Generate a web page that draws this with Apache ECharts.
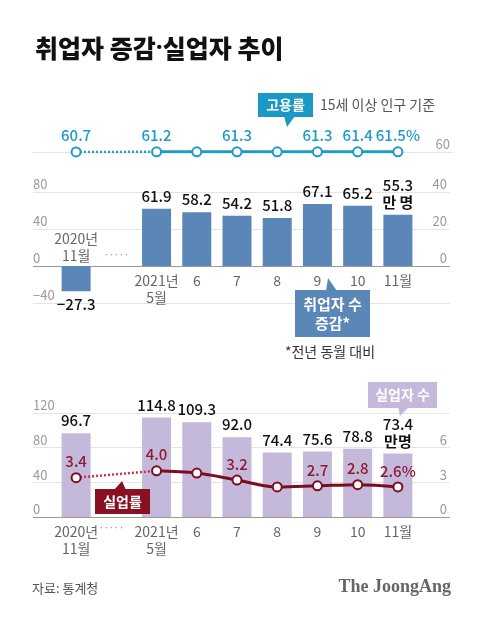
<!DOCTYPE html>
<html><head><meta charset="utf-8">
<script src="https://cdn.jsdelivr.net/npm/echarts@6/dist/echarts.min.js"></script>
<style>html,body{margin:0;padding:0;background:#fff}#c{width:480px;height:617px}</style>
</head><body><div id="c"></div>
<script>
// ---- data ----
const categories = ['2020년\n11월', '·····', '2021년\n5월', '6', '7', '8', '9', '10', '11월'];
const employmentRate = [60.7, null, 61.2, 61.3, 61.3, 61.2, 61.3, 61.4, 61.5];
const employmentRateLabelShown = [true, false, true, false, true, false, true, true, true];
const employedChange = [-27.3, null, 61.9, 58.2, 54.2, 51.8, 67.1, 65.2, 55.3];
const unemployed = [96.7, null, 114.8, 109.3, 92.0, 74.4, 75.6, 78.8, 73.4];
const unemploymentRate = [3.4, null, 4.0, 3.8, 3.2, 2.6, 2.7, 2.8, 2.6];
const unemploymentRateLabelShown = [true, false, true, false, true, false, true, true, true];
const rateAxisTicks = [60];
const changeLeftTicks = [-40, 0, 40, 80];
const changeRightTicks = [-20, 0, 20, 40];
const unempLeftTicks = [0, 40, 80, 120];
const unempRightTicks = [0, 3, 6, 9];

// ---- styles ----
const FONT = "'Noto Sans CJK KR', 'Noto Sans', sans-serif";
const RATE_BLUE = '#1c9cc8';
const BAR_BLUE = '#5b87b8';
const BAR_PURPLE = '#c5b9db';
const DARK_RED = '#7e0c1f';
const LABEL_RED = '#8e1b30';
const GRID_LIGHT = '#e4e4e4';
const GRID_ZERO = '#9a9a9a';
const last = categories.length - 1;

const chart = echarts.init(document.getElementById('c'), null, {renderer: 'canvas'});

const frameL = 33, frameR = 30, dataL = 56, dataR = 62;
const g = {
  rate: {top: 122, height: 30},
  chg: {top: 192, height: 111},
  une: {top: 413, height: 104}
};
// pixel distance from the bottom of the change grid up to its zero line
const chgMin = changeLeftTicks[0], chgMax = changeLeftTicks[changeLeftTicks.length - 1];
const chgZeroOffset = g.chg.height * (0 - chgMin) / (chgMax - chgMin);

function hiddenX(grid) {
  return {gridIndex: grid, type: 'value', min: 0, max: 1, show: false};
}
function leftAxis(grid, ticks, zeroIdx, fmt) {
  const colors = ticks.map((t, i) => i === zeroIdx ? GRID_ZERO : GRID_LIGHT);
  return {
    gridIndex: grid, type: 'value', position: 'left',
    min: ticks[0], max: ticks[ticks.length - 1], interval: ticks[1] - ticks[0],
    axisLine: {show: false}, axisTick: {show: false},
    splitLine: {show: true, lineStyle: {color: colors, width: 1}},
    axisLabel: {inside: true, align: 'left', verticalAlign: 'bottom', margin: 0,
      padding: [0, 0, 1, 0], color: '#9a9a9a', fontSize: 13, fontFamily: FONT,
      formatter: fmt || (v => v < 0 ? '−' + Math.abs(v) : String(v))}
  };
}
function rightAxis(grid, ticks, fmt) {
  return {
    gridIndex: grid, type: 'value', position: 'right',
    min: ticks[0], max: ticks[ticks.length - 1], interval: ticks[1] - ticks[0],
    axisLine: {show: false}, axisTick: {show: false}, splitLine: {show: false},
    axisLabel: {inside: true, align: 'right', verticalAlign: 'bottom', margin: 3,
      padding: [0, 0, 1, 0], color: '#9a9a9a', fontSize: 13, fontFamily: FONT, formatter: fmt}
  };
}
function hiddenY(grid, min, max) {
  return {gridIndex: grid, type: 'value', min: min, max: max, show: false, splitLine: {show: false}};
}

// category axis data for the two bar charts
const chgAxisData = categories.map((c, i) => {
  if (i === 0) return {value: c, textStyle: {verticalAlign: 'bottom', padding: [0, 0, 8, 0]}};
  if (i === 1) return {value: c, textStyle: {verticalAlign: 'bottom', padding: [0, 0, 12, 0], fontSize: 9, color: '#777', lineHeight: 10}};
  return c;
});
const uneAxisData = categories.map((c, i) => {
  if (i === 1) return {value: c, textStyle: {fontSize: 9, color: '#777', lineHeight: 10, padding: [0, 10, 0, 0]}};
  return c;
});

function catAxis(grid, data, showLabels, offset) {
  return {
    gridIndex: grid, type: 'category', data: data, boundaryGap: true, position: 'bottom',
    offset: offset || 0,
    axisLine: {show: false, onZero: false}, axisTick: {show: false},
    axisLabel: {show: showLabels, interval: 0, color: '#666', fontSize: 14, lineHeight: 17,
      margin: 6, fontFamily: FONT}
  };
}

const fmt1 = v => (typeof v === 'number' ? v.toFixed(1) : v);

const option = {
  animation: false,
  backgroundColor: '#fff',
  textStyle: {fontFamily: FONT},
  title: {
    text: '{a|취업자 증감}{d|·}{a|실업자 추이}', left: 30, top: 31,
    textStyle: {
      rich: {
        a: {fontSize: 25, fontWeight: 900, color: '#111', fontFamily: FONT},
        d: {fontSize: 25, fontWeight: 'bold', color: '#111', fontFamily: "'Noto Sans', sans-serif"}
      }
    }
  },
  grid: [
    {left: frameL, right: frameR - 3, top: g.rate.top, height: g.rate.height},
    {left: dataL, right: dataR, top: g.rate.top, height: g.rate.height},
    {left: frameL, right: frameR, top: g.chg.top, height: g.chg.height},
    {left: dataL, right: dataR, top: g.chg.top, height: g.chg.height},
    {left: frameL, right: frameR, top: g.une.top, height: g.une.height},
    {left: dataL, right: dataR, top: g.une.top, height: g.une.height}
  ],
  xAxis: [
    {gridIndex: 0, type: 'value', min: 0, max: 1, position: 'bottom',
      axisLine: {show: true, lineStyle: {color: GRID_LIGHT, width: 1}},
      axisTick: {show: false}, axisLabel: {show: false}, splitLine: {show: false}},
    catAxis(1, categories, false),
    hiddenX(2),
    catAxis(3, chgAxisData, true, -chgZeroOffset),
    hiddenX(4),
    catAxis(5, uneAxisData, true)
  ],
  yAxis: [
    hiddenY(0, 60, 300),
    rightAxis(0, [60, 300], v => (rateAxisTicks.indexOf(v) >= 0 ? String(v) : '')),
    hiddenY(1, 60, 300),
    leftAxis(2, changeLeftTicks, 1),
    rightAxis(2, changeRightTicks, v => (v >= 0 ? String(v) : '')),
    hiddenY(3, chgMin, chgMax),
    leftAxis(4, unempLeftTicks, 0),
    rightAxis(4, unempRightTicks, v => (v < unempRightTicks[unempRightTicks.length - 1] ? String(v) : '')),
    hiddenY(5, unempLeftTicks[0], unempLeftTicks[unempLeftTicks.length - 1]),
    hiddenY(5, unempRightTicks[0], unempRightTicks[unempRightTicks.length - 1])
  ],
  series: [
    // employment rate: dotted link across the gap
    {type: 'line', xAxisIndex: 1, yAxisIndex: 2, z: 2,
      data: employmentRate.map((v, i) => (i <= 2 ? v : null)), connectNulls: true,
      showSymbol: false, lineStyle: {color: RATE_BLUE, width: 2.5, type: [2, 2]}, silent: true},
    {type: 'line', xAxisIndex: 1, yAxisIndex: 2, z: 3,
      data: employmentRate, connectNulls: false,
      symbol: 'circle', symbolSize: 9, showAllSymbol: true,
      itemStyle: {color: '#fff', borderColor: RATE_BLUE, borderWidth: 2},
      lineStyle: {color: RATE_BLUE, width: 3},
      label: {show: true, position: 'top', distance: 4, color: RATE_BLUE, fontSize: 15, fontWeight: 500, fontFamily: FONT,
        formatter: p => (employmentRateLabelShown[p.dataIndex] ? fmt1(p.value) + (p.dataIndex === last ? '%' : '') : '')}},
    // employed change bars
    {type: 'bar', xAxisIndex: 3, yAxisIndex: 5, barWidth: 29,
      itemStyle: {color: BAR_BLUE},
      data: employedChange.map(v => (v !== null && v < 0 ? {value: v, label: {position: 'bottom', distance: 5}} : v)),
      label: {show: true, position: 'top', distance: 4, color: '#111', fontSize: 15, fontWeight: 500, fontFamily: FONT, lineHeight: 17,
        formatter: p => (p.dataIndex === last ? '{v|' + fmt1(p.value) + '}\n{u|만 명}' : (p.value < 0 ? '−' + Math.abs(p.value).toFixed(1) : fmt1(p.value))),
        rich: {v: {fontSize: 15, lineHeight: 17, color: '#111', fontWeight: 500, fontFamily: FONT},
          u: {fontSize: 15, lineHeight: 17, color: '#111', fontWeight: 'bold', fontFamily: FONT}}}},
    // unemployed bars
    {type: 'bar', xAxisIndex: 5, yAxisIndex: 8, barWidth: 29,
      itemStyle: {color: BAR_PURPLE},
      data: unemployed,
      label: {show: true, position: 'top', distance: 4, color: '#111', fontSize: 15, fontWeight: 500, fontFamily: FONT, lineHeight: 17,
        formatter: p => (p.dataIndex === last ? '{v|' + fmt1(p.value) + '}\n{u|만명}' : fmt1(p.value)),
        rich: {v: {fontSize: 15, lineHeight: 17, color: '#111', fontWeight: 500, fontFamily: FONT},
          u: {fontSize: 15, lineHeight: 17, color: '#111', fontWeight: 'bold', fontFamily: FONT}}}},
    // unemployment rate dotted link
    {type: 'line', xAxisIndex: 5, yAxisIndex: 9, z: 4,
      data: unemploymentRate.map((v, i) => (i <= 2 ? v : null)), connectNulls: true,
      showSymbol: false, lineStyle: {color: '#c3384c', width: 2.5, type: [2, 2]}, silent: true},
    {type: 'line', xAxisIndex: 5, yAxisIndex: 9, z: 5,
      data: unemploymentRate, connectNulls: false, smooth: 0.35,
      symbol: 'circle', symbolSize: 9, showAllSymbol: true,
      itemStyle: {color: '#fff', borderColor: DARK_RED, borderWidth: 2},
      lineStyle: {color: DARK_RED, width: 3},
      label: {show: true, position: 'top', distance: 3, color: LABEL_RED, fontSize: 15, fontWeight: 500, fontFamily: FONT,
        formatter: p => (unemploymentRateLabelShown[p.dataIndex] ? fmt1(p.value) + (p.dataIndex === last ? '%' : '') : '')}}
  ],
  graphic: [
    // 고용률 badge
    {type: 'rect', shape: {x: 258, y: 93, width: 55, height: 24}, style: {fill: '#1a98c6'}, z: 10},
    {type: 'polygon', shape: {points: [[284, 116], [295, 116], [287, 127]]}, style: {fill: '#1a98c6'}, z: 10},
    {type: 'text', x: 285.5, y: 105, z: 11, style: {text: '고용률', fill: '#fff', fontSize: 14, fontWeight: 'bold', fontFamily: FONT, align: 'center', verticalAlign: 'middle'}},
    {type: 'text', x: 320, y: 105, z: 11, style: {text: '15세 이상 인구 기준', fill: '#555', fontSize: 14, fontFamily: FONT, align: 'left', verticalAlign: 'middle'}},
    // 취업자 수 증감 badge
    {type: 'rect', shape: {x: 295, y: 290, width: 75, height: 47}, style: {fill: BAR_BLUE}, z: 10},
    {type: 'polygon', shape: {points: [[326, 291], [337, 291], [328, 278]]}, style: {fill: BAR_BLUE}, z: 10},
    {type: 'text', x: 332.5, y: 313.5, z: 11, style: {text: '취업자 수\n증감*', fill: '#fff', fontSize: 15, lineHeight: 19, fontWeight: 'bold', fontFamily: FONT, align: 'center', verticalAlign: 'middle'}},
    {type: 'text', x: 330, y: 352, z: 11, style: {text: '*전년 동월 대비', fill: '#333', fontSize: 14, fontFamily: FONT, align: 'center', verticalAlign: 'middle'}},
    // 실업자 수 badge
    {type: 'rect', shape: {x: 368, y: 382, width: 69, height: 26}, style: {fill: BAR_PURPLE}, z: 10},
    {type: 'polygon', shape: {points: [[398, 407], [409, 407], [400, 416]]}, style: {fill: BAR_PURPLE}, z: 10},
    {type: 'text', x: 402.5, y: 395, z: 11, style: {text: '실업자 수', fill: '#fff', fontSize: 14, fontWeight: 'bold', fontFamily: FONT, align: 'center', verticalAlign: 'middle'}},
    // 실업률 badge
    {type: 'rect', shape: {x: 95, y: 489, width: 55, height: 25}, style: {fill: '#8b0f22'}, z: 10},
    {type: 'polygon', shape: {points: [[114, 490], [126, 490], [122, 481]]}, style: {fill: '#8b0f22'}, z: 10},
    {type: 'text', x: 122.5, y: 501.5, z: 11, style: {text: '실업률', fill: '#fff', fontSize: 14, fontWeight: 'bold', fontFamily: FONT, align: 'center', verticalAlign: 'middle'}},
    // footer
    {type: 'text', x: 32, y: 588, z: 11, style: {text: '자료: 통계청', fill: '#555', fontSize: 13, fontFamily: FONT, align: 'left', verticalAlign: 'middle'}},
    {type: 'text', x: 451, y: 587, z: 11, style: {text: 'The JoongAng', fill: '#666', fontSize: 18, fontWeight: 'bold', fontFamily: "'Liberation Serif', 'DejaVu Serif', serif", align: 'right', verticalAlign: 'middle'}}
  ]
};
chart.setOption(option);
</script>
</body></html>
